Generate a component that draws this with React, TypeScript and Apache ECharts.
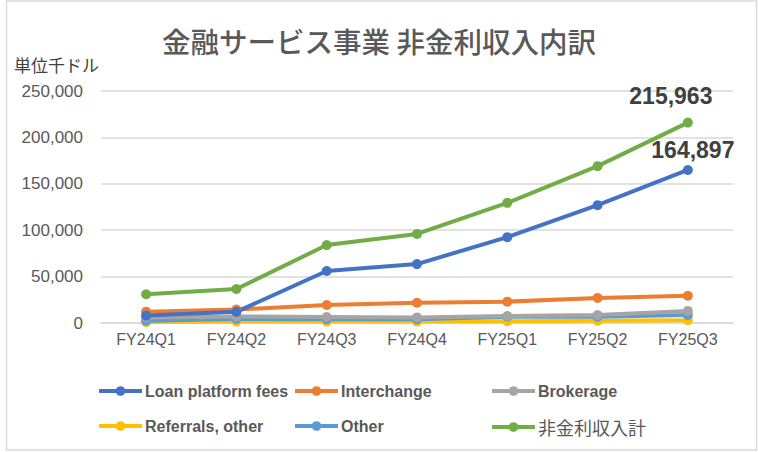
import React, { useEffect, useRef } from "react";
import * as echarts from "echarts";

const categories = ["FY24Q1", "FY24Q2", "FY24Q3", "FY24Q4", "FY25Q1", "FY25Q2", "FY25Q3"];
const loanPlatformFees = [8000, 12000, 56000, 63500, 92500, 127000, 164897];
const interchange = [12200, 14500, 19400, 21800, 23000, 27000, 29400];
const brokerage = [6000, 7000, 6500, 6000, 7500, 8500, 13000];
const referralsOther = [1000, 1500, 1500, 1500, 2000, 2500, 3000];
const other = [2500, 4300, 4000, 4000, 6800, 6800, 8600];
const totalNonInterest = [31000, 36600, 84000, 96000, 129500, 169000, 215963];

const seriesNames = ["Loan platform fees", "Interchange", "Brokerage", "Referrals, other", "Other", "非金利収入計"];
const seriesColors = ["#4472C4", "#ED7D31", "#A5A5A5", "#FFC000", "#5B9BD5", "#70AD47"];
const seriesData = [loanPlatformFees, interchange, brokerage, referralsOther, other, totalNonInterest];
const yTicks = { min: 0, max: 250000, interval: 50000 };

const JP = "'Noto Sans CJK JP', 'Noto Sans', sans-serif";
const LAT = "'Liberation Sans', 'Noto Sans', sans-serif";
const TEXT = "#595959";

export default function App() {
  const ref = useRef<HTMLDivElement>(null);
  useEffect(() => {
    document.body.style.margin = "0";
    const chart = echarts.init(ref.current!, null, { renderer: "svg" });
    const drawOrder = [3, 4, 2, 1, 0, 5];
    const series = drawOrder.map((i) => {
      const data = seriesData[i];
      const isLabelled = i === 0 || i === 5;
      return {
        name: seriesNames[i],
        type: "line",
        data: data.map((v, k) =>
          isLabelled && k === data.length - 1
            ? {
                value: v,
                label: {
                  show: true,
                  position: "top",
                  offset: i === 5 ? [-17, -5] : [5, 2],
                  formatter: (p: any) => Number(p.value).toLocaleString("en-US"),
                  fontSize: 23,
                  fontWeight: "bold",
                  color: "#404040",
                  fontFamily: LAT,
                },
              }
            : v
        ),
        color: seriesColors[i],
        symbol: "circle",
        symbolSize: 10,
        lineStyle: { width: 4, color: seriesColors[i] },
        itemStyle: { color: seriesColors[i] },
        z: 2,
      };
    });
    const legendPos = [
      [92, 378],
      [288, 378],
      [485, 378],
      [92, 413],
      [288, 413],
      [485, 413],
    ];
    const legends = seriesNames.map((n, i) => ({
      data: [n],
      left: legendPos[i][0],
      top: legendPos[i][1],
      itemWidth: 43,
      itemHeight: 12,
      itemGap: 2,
      selectedMode: false,
      lineStyle: { width: 4 },
      textStyle: {
        color: TEXT,
        fontSize: i === 5 ? 18 : 16,
        fontWeight: i === 5 ? "normal" : "bold",
        fontFamily: i === 5 ? JP : LAT,
        padding: [0, 0, 0, -2],
      },
    }));
    chart.setOption({
      animation: false,
      backgroundColor: "#ffffff",
      title: {
        text: "金融サービス事業 非金利収入内訳",
        left: "center",
        top: 21,
        textStyle: { color: TEXT, fontSize: 28.5, fontWeight: 500, fontFamily: JP },
      },
      graphic: [
        {
          type: "rect",
          shape: { x: 6.5, y: 1, width: 750, height: 449 },
          style: { fill: "none", stroke: "#D9D9D9", lineWidth: 1.5 },
          silent: true,
        },
        {
          type: "text",
          left: 14,
          top: 56,
          style: { text: "単位千ドル", fill: "#404040", fontSize: 17, fontFamily: JP },
        },
      ],
      legend: legends,
      grid: { left: 101, right: 25, top: 91, bottom: 129, containLabel: false },
      xAxis: {
        type: "category",
        data: categories,
        boundaryGap: true,
        axisLine: { lineStyle: { color: "#D9D9D9", width: 1.5 } },
        axisTick: { show: false },
        axisLabel: { color: TEXT, fontSize: 16, margin: 8, fontFamily: LAT },
      },
      yAxis: {
        type: "value",
        min: yTicks.min,
        max: yTicks.max,
        interval: yTicks.interval,
        axisLine: { show: false },
        axisTick: { show: false },
        splitLine: { lineStyle: { color: "#D9D9D9", width: 1.5 } },
        axisLabel: {
          color: TEXT,
          fontSize: 17,
          margin: 18,
          fontFamily: LAT,
          formatter: (v: number) => v.toLocaleString("en-US"),
        },
      },
      series,
    });
    return () => chart.dispose();
  }, []);
  return <div ref={ref} style={{ width: 758, height: 452 }} />;
}
